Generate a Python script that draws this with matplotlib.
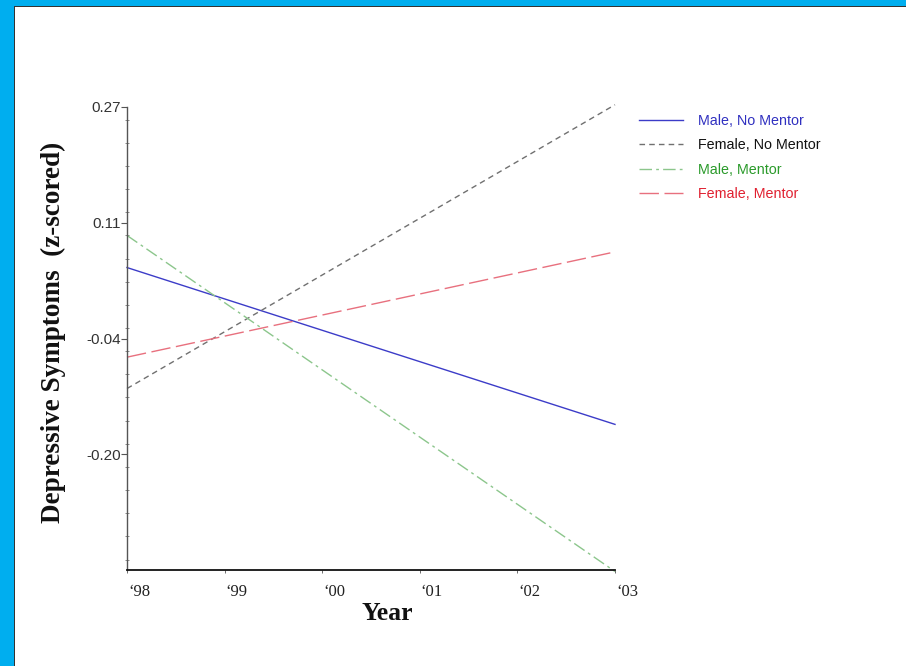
import matplotlib
matplotlib.use("Agg")
import matplotlib.pyplot as plt
from matplotlib.patches import Rectangle
from matplotlib.ticker import MultipleLocator, FixedLocator
import matplotlib.transforms as mtrans

# ---- data ----
years = [1998, 2003]
series_names = ["Male, No Mentor", "Female, No Mentor", "Male, Mentor", "Female, Mentor"]
male_no_mentor = [0.050, -0.160]
female_no_mentor = [-0.112, 0.268]
male_mentor = [0.093, -0.357]
female_mentor = [-0.070, 0.071]

xtick_values = [1998, 1999, 2000, 2001, 2002, 2003]
xtick_labels = ["\u201898", "\u201899", "\u201800", "\u201801", "\u201802", "\u201803"]
ytick_values = [0.265, 0.11, -0.045, -0.20]
ytick_labels = ["0.27", "0.11", "-0.04", "-0.20"]

# ---- styles ----
line_colors = ["#3c3cc8", "#707070", "#8cc68c", "#e8707e"]
text_colors = ["#3030c0", "#111111", "#2a9a2a", "#e02030"]
line_styles = ["-", (0, (4, 3)), (0, (9, 3, 2, 3)), (0, (14, 4))]

W, H = 906, 666
fig = plt.figure(figsize=(W / 100, H / 100), dpi=100)
fig.patch.set_facecolor("white")

# slide border (blue) at top and left
fig.patches.append(Rectangle((0, 1 - 6 / H), 1, 6 / H, transform=fig.transFigure,
                             facecolor="#00aeef", edgecolor="none", zorder=0))
fig.patches.append(Rectangle((0, 0), 14 / W, 1, transform=fig.transFigure,
                             facecolor="#00aeef", edgecolor="none", zorder=0))
fig.patches.append(Rectangle((14 / W, 0), 1.2 / W, 1 - 6 / H, transform=fig.transFigure,
                             facecolor="#333333", edgecolor="none", zorder=0))
fig.patches.append(Rectangle((14 / W, 1 - 7.2 / H), 1, 1.2 / H, transform=fig.transFigure,
                             facecolor="#333333", edgecolor="none", zorder=0))

ax = fig.add_axes([127 / W, 1 - 570 / H, (615 - 127) / W, (570 - 107) / H])
ax.set_facecolor("none")

all_series = [male_no_mentor, female_no_mentor, male_mentor, female_mentor]
handles = []
for vals, name, c, ls in zip(all_series, series_names, line_colors, line_styles):
    h, = ax.plot(years, vals, color=c, linestyle=ls, linewidth=1.0, label=name, clip_on=False)
    handles.append(h)

ax.set_xlim(1998, 2003)
ax.set_ylim(-0.355, 0.265)

for s in ["top", "right"]:
    ax.spines[s].set_visible(False)
ax.spines["left"].set_color("#555555")
ax.spines["left"].set_linewidth(1.0)
ax.spines["bottom"].set_color("#111111")
ax.spines["bottom"].set_linewidth(1.3)

ax.yaxis.set_major_locator(FixedLocator(ytick_values))
ax.set_yticklabels(ytick_labels, fontfamily="Liberation Sans", fontsize=11, color="#333333")
ax.yaxis.set_minor_locator(MultipleLocator(0.031))
ax.tick_params(axis="y", which="major", direction="out", length=4, width=0.8, color="#555555", pad=0.5)
ax.tick_params(axis="y", which="minor", direction="inout", length=3, width=0.6, color="#777777")

ax.set_xticks(xtick_values)
ax.set_xticklabels(xtick_labels, fontfamily="Liberation Serif", fontsize=12, color="#222222")
ax.tick_params(axis="x", which="major", direction="out", length=2, width=0.6, color="#555555", pad=8)
shift = mtrans.ScaledTranslation(1 / 100, 0, fig.dpi_scale_trans)
for lbl in ax.get_xticklabels():
    lbl.set_horizontalalignment("left")
    lbl.set_transform(lbl.get_transform() + shift)

fig.text(53 / W, 1 - 332 / H, "Depressive Symptoms  (z-scored)", rotation=90,
         ha="center", va="center", fontfamily="Liberation Serif", fontweight="bold",
         fontsize=19.5, color="#111111")
fig.text(387 / W, 1 - 614 / H, "Year", ha="center", va="center",
         fontfamily="Liberation Serif", fontweight="bold", fontsize=18.5, color="#111111")

leg = fig.legend(handles=handles, loc="upper left", bbox_to_anchor=(639 / W, 1 - 114 / H),
                 frameon=False, prop={"family": "Liberation Sans", "size": 10.3},
                 handlelength=3.1, handletextpad=1.0, labelspacing=0.72, borderaxespad=0,
                 borderpad=0)
for t, c in zip(leg.get_texts(), text_colors):
    t.set_color(c)

fig.savefig("out.png", dpi=100, facecolor="white")
